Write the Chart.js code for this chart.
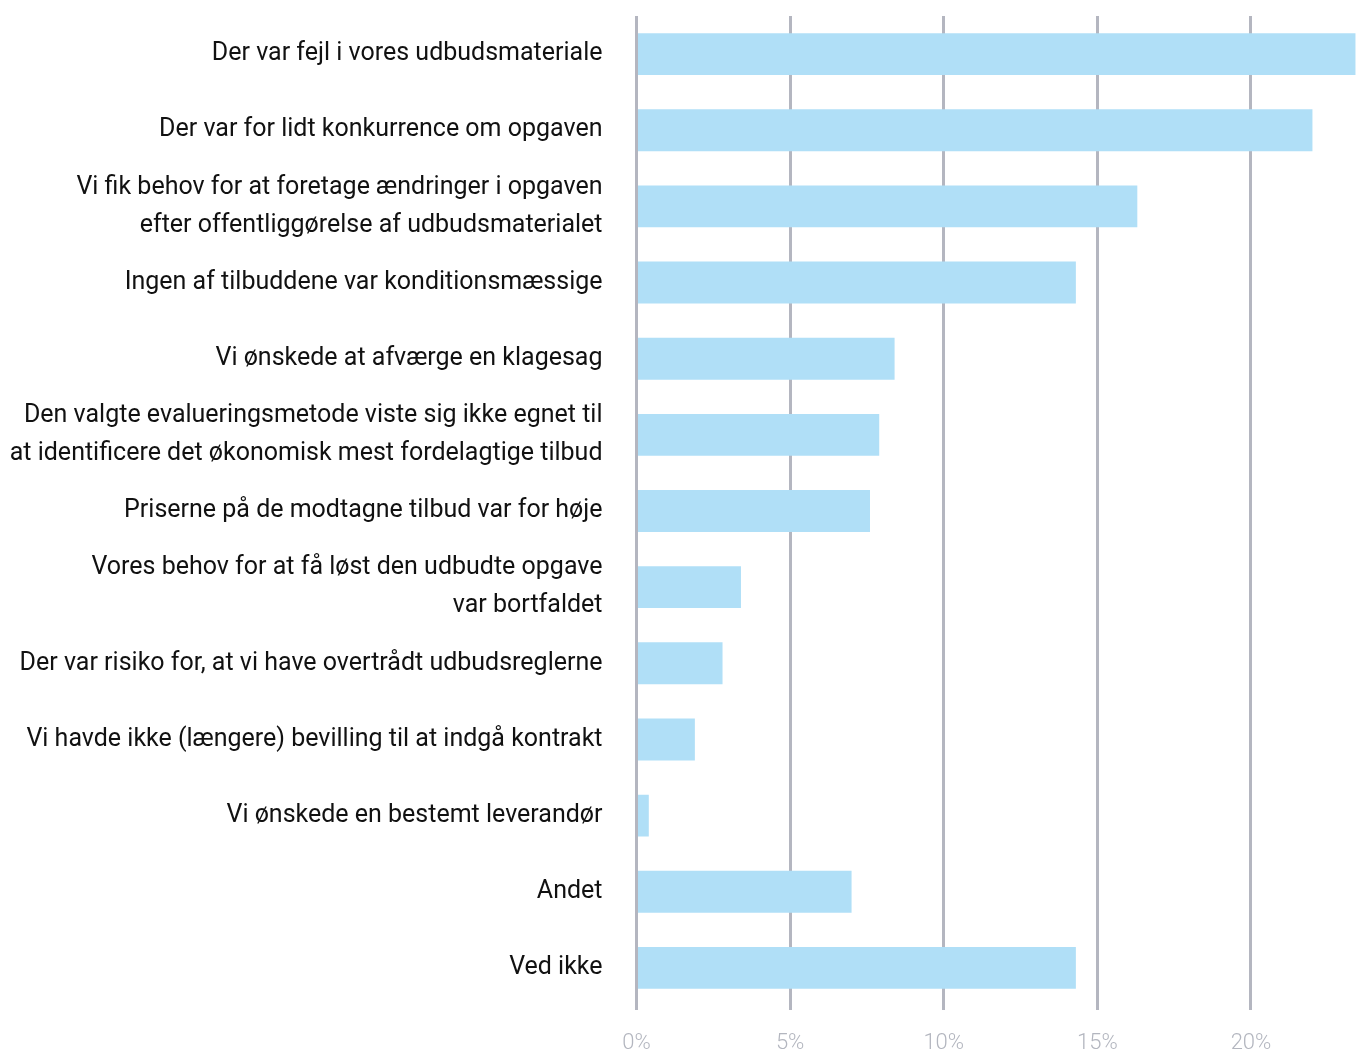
<!DOCTYPE html>
<html>
<head>
<meta charset="utf-8">
<script src="https://cdn.jsdelivr.net/npm/chart.js@4/dist/chart.umd.min.js"></script>
<style>
html,body{margin:0;padding:0;background:#fff;}
#wrap{width:1357px;height:1053px;position:relative;}
</style>
</head>
<body>
<div id="wrap"><canvas id="c"></canvas></div>
<script>
const categories = [
  "Der var fejl i vores udbudsmateriale",
  "Der var for lidt konkurrence om opgaven",
  ["Vi fik behov for at foretage ændringer i opgaven", "efter offentliggørelse af udbudsmaterialet"],
  "Ingen af tilbuddene var konditionsmæssige",
  "Vi ønskede at afværge en klagesag",
  ["Den valgte evalueringsmetode viste sig ikke egnet til", "at identificere det økonomisk mest fordelagtige tilbud"],
  "Priserne på de modtagne tilbud var for høje",
  ["Vores behov for at få løst den udbudte opgave", "var bortfaldet"],
  "Der var risiko for, at vi have overtrådt udbudsreglerne",
  "Vi havde ikke (længere) bevilling til at indgå kontrakt",
  "Vi ønskede en bestemt leverandør",
  "Andet",
  "Ved ikke"
];
const values = [23.4, 22.0, 16.3, 14.3, 8.4, 7.9, 7.6, 3.4, 2.8, 1.9, 0.4, 7.0, 14.3];
const tickValues = [0, 5, 10, 15, 20];
const axisMax = 23.45;

new Chart(document.getElementById('c'), {
  type: 'bar',
  data: {
    labels: categories,
    datasets: [{
      data: values,
      backgroundColor: '#b0dff7',
      borderWidth: 0,
      categoryPercentage: 1,
      barPercentage: 0.55
    }]
  },
  options: {
    indexAxis: 'y',
    responsive: true,
    maintainAspectRatio: false,
    animation: false,
    layout: { padding: { top: 16, left: 0, right: 0, bottom: 0 } },
    plugins: { legend: { display: false }, tooltip: { enabled: false } },
    scales: {
      x: {
        min: 0,
        max: axisMax,
        afterBuildTicks: (scale) => { scale.ticks = tickValues.map(v => ({ value: v })); },
        afterFit: (scale) => { scale.height = 47; scale.paddingLeft = 0; scale.paddingRight = 0; },
        grid: {
          color: '#b4b6c0',
          lineWidth: 3,
          drawTicks: true,
          tickLength: 4
        },
        border: { display: false },
        ticks: {
          padding: 20,
          color: '#b3b6bf',
          font: { family: 'Roboto', size: 22, weight: '300' },
          callback: (v) => v + '%',
          maxRotation: 0
        }
      },
      y: {
        afterFit: (scale) => { scale.width = 636.5; scale.paddingTop = 0; scale.paddingBottom = 0; },
        grid: { display: false, drawTicks: false },
        border: { display: false },
        ticks: {
          padding: 34,
          color: '#111111',
          font: { family: 'Roboto', size: 25, lineHeight: 1.52 },
          autoSkip: false
        }
      }
    }
  }
});
</script>
</body>
</html>
